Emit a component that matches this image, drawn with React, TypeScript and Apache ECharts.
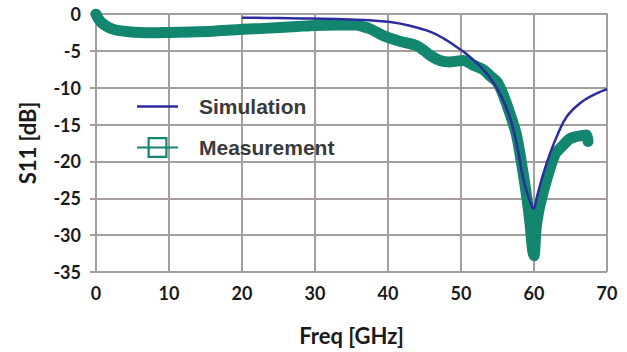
import React, { useEffect, useRef } from "react";
import * as echarts from "echarts";

const simFreq = [20, 25, 28, 31, 34.8, 37.5, 40.3, 43, 45.75, 47.6, 49, 50.3, 51.2, 52, 53, 54, 55, 56, 57, 57.8, 58.3, 58.8, 59.7, 59.95, 60.4, 61.3, 62.2, 63.3, 64.5, 66.3, 68.1, 70];
const simDb = [-0.5, -0.55, -0.6, -0.65, -0.75, -0.85, -1.1, -1.6, -2.4, -3.3, -4.2, -5.1, -5.8, -6.5, -7.5, -8.7, -10.2, -12.2, -15.0, -18.5, -21.3, -23.4, -26.1, -26.4, -24.8, -21.6, -18.9, -16.2, -13.9, -12.1, -11.0, -10.2];

const measFreq = [0, 0.3, 0.8, 1.5, 2.3, 3.2, 4.5, 6, 8, 10, 13, 16, 19.7, 23, 27.5, 30, 33, 35.7, 36.5, 37.5, 38.5, 39.5, 41.6, 43.9, 45, 45.75, 47.1, 48.5, 50.3, 51.6, 53, 54, 55, 55.8, 56.7, 57.6, 58.3, 59, 59.45, 59.8, 60, 60.3, 60.7, 61.1, 62, 62.9, 63.5, 64.2, 64.8, 65.5, 66.5, 67.2, 67.4];
const measDb = [0, -0.6, -1.2, -1.7, -2.05, -2.25, -2.4, -2.5, -2.55, -2.5, -2.45, -2.35, -2.1, -1.95, -1.7, -1.55, -1.5, -1.5, -1.7, -2.0, -2.5, -3.0, -3.7, -4.3, -5.0, -5.6, -6.3, -6.5, -6.3, -6.9, -7.5, -8.4, -9.3, -11.0, -13.5, -16.4, -20.3, -24.8, -28.4, -32.0, -32.8, -29, -26.5, -24.8, -21.6, -19.0, -18.3, -17.6, -17.0, -16.7, -16.5, -16.4, -17.3];

const seriesNames = ["Simulation", "Measurement"];
const xTitle = "Freq [GHz]";
const yTitle = "S11 [dB]";

const NAVY = "#2b2d9e";
const TEAL = "#13866f";
const GRID = "#a69e9a";

export default function App() {
  const ref = useRef<HTMLDivElement>(null);
  useEffect(() => {
    if (!ref.current) return;
    const chart = echarts.init(ref.current, undefined, { renderer: "svg" });
    const simData = simFreq.map((f, i) => [f, simDb[i]]);
    const measData = measFreq.map((f, i) => [f, measDb[i]]);
    const labelStyle = {
      fontFamily: "Lato",
      fontWeight: "bold" as const,
      fontSize: 18,
      color: "#1a1a1a",
    };
    chart.setOption({
      animation: false,
      backgroundColor: "#ffffff",
      grid: { left: 96, right: 20, top: 14, bottom: 80 },
      legend: {
        orient: "vertical",
        left: 132,
        top: 91,
        itemWidth: 41,
        itemHeight: 22,
        itemGap: 20,
        textStyle: {
          fontFamily: "Liberation Sans",
          fontWeight: "bold",
          fontSize: 21,
          color: "#3a3a3a",
          padding: [0, 0, 0, 16],
        },
        data: [
          {
            name: seriesNames[0],
            icon: "path://M0,0h41v2.5H0z",
            itemStyle: { color: NAVY, borderWidth: 0 },
          },
          {
            name: seriesNames[1],
            icon:
              "path://M0,9.4h41v2.2H0z M10.5,0h20v2.2h-20z M10.5,18.8h20v2.2h-20z M10.5,0h2.2v21h-2.2z M28.3,0h2.2v21h-2.2z",
            itemStyle: { color: TEAL, borderWidth: 0 },
          },
        ],
      },
      xAxis: {
        type: "value",
        min: 0,
        max: 70,
        interval: 10,
        name: xTitle,
        nameLocation: "middle",
        nameGap: 52,
        nameTextStyle: { fontFamily: "Lato", fontWeight: "bold", fontSize: 22, color: "#1a1a1a" },
        axisLine: { show: true, lineStyle: { color: GRID, width: 2 } },
        axisTick: { show: true, length: 6, lineStyle: { color: GRID, width: 2 } },
        axisLabel: { ...labelStyle, margin: 12 },
        splitLine: { show: true, lineStyle: { color: GRID, width: 2 } },
      },
      yAxis: {
        type: "value",
        min: -35,
        max: 0,
        interval: 5,
        name: yTitle,
        nameLocation: "middle",
        nameGap: 58,
        nameTextStyle: { fontFamily: "Lato", fontWeight: "bold", fontSize: 22, color: "#1a1a1a" },
        axisLine: { show: true, lineStyle: { color: GRID, width: 2 } },
        axisTick: { show: true, length: 6, lineStyle: { color: GRID, width: 2 } },
        axisLabel: { ...labelStyle, margin: 15 },
        splitLine: { show: true, lineStyle: { color: GRID, width: 2 } },
      },
      series: [
        {
          name: seriesNames[0],
          type: "line",
          data: simData,
          smooth: 0.4,
          showSymbol: false,
          lineStyle: { color: NAVY, width: 2.5 },
          itemStyle: { color: NAVY },
          z: 3,
        },
        {
          name: seriesNames[1],
          type: "line",
          data: measData,
          smooth: 0.3,
          showSymbol: false,
          lineStyle: { color: TEAL, width: 11, cap: "round", join: "round" },
          itemStyle: { color: TEAL },
          z: 2,
        },
      ],
    });
    return () => chart.dispose();
  }, []);
  return <div ref={ref} style={{ width: 627, height: 352, position: "absolute", left: 0, top: 0 }} />;
}
